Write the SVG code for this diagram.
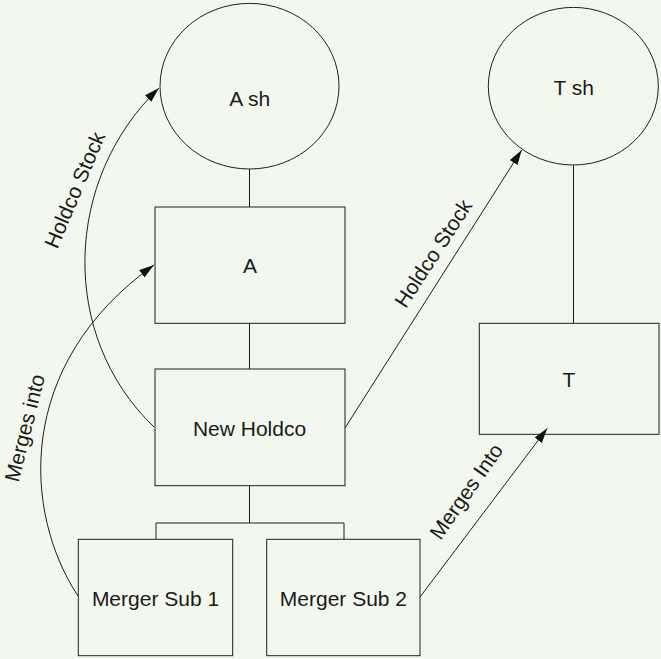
<svg xmlns="http://www.w3.org/2000/svg" width="661" height="659" viewBox="0 0 661 659">
  <style>
    .shape { fill: none; stroke: #1e1e1e; stroke-width: 1; }
    .conn { fill: none; stroke: #1e1e1e; stroke-width: 1; }
    .lbl { font-family: "Liberation Sans", Arial, sans-serif; font-size: 21px; fill: #1a1a1a; text-anchor: middle; }
  </style>
  <defs>
    <marker id="arrow" markerUnits="userSpaceOnUse" markerWidth="16" markerHeight="10" refX="15" refY="4.5" orient="auto">
      <path d="M0,0 L15,4.5 L0,9 z" fill="#111"/>
    </marker>
  </defs>
  <rect x="0" y="0" width="661" height="659" fill="#f3f8ee"/>

  <g id="connectors">
    <line class="conn" x1="249.5" y1="169" x2="249.5" y2="207"/>
    <line class="conn" x1="249.5" y1="323" x2="249.5" y2="369"/>
    <polyline class="conn" points="249.5,486 249.5,523"/>
    <polyline class="conn" points="156,539 156,523 344,523 344,539"/>
    <line class="conn" x1="573.5" y1="165" x2="573.5" y2="323"/>
    <path class="conn" d="M154,427 C58.6,335.6 63.6,179.4 159,88" marker-end="url(#arrow)"/>
    <path class="conn" d="M78,596 C23.4,513.2 13.7,365.1 154,265" marker-end="url(#arrow)"/>
    <line class="conn" x1="345" y1="428" x2="521.7" y2="150" marker-end="url(#arrow)"/>
    <line class="conn" x1="420" y1="597" x2="547.3" y2="428.3" marker-end="url(#arrow)"/>
    <text class="lbl" transform="translate(75,190) rotate(-67)" x="0" y="7">Holdco Stock</text>
    <text class="lbl" transform="translate(433.5,253.5) rotate(-57)" x="0" y="7">Holdco Stock</text>
    <text class="lbl" transform="translate(25,428) rotate(-76)" x="0" y="7">Merges into</text>
    <text class="lbl" transform="translate(466.5,491.5) rotate(-55)" x="0" y="7">Merges Into</text>
  </g>

  <g id="node-ash">
    <ellipse class="shape" cx="249.5" cy="86.2" rx="89.5" ry="82.8"/>
    <text class="lbl" x="249.8" y="106">A sh</text>
  </g>
  <g id="node-tsh">
    <ellipse class="shape" cx="573.3" cy="86.2" rx="85" ry="78.8"/>
    <text class="lbl" x="573.7" y="94.5">T sh</text>
  </g>
  <g id="node-a">
    <rect class="shape" x="155" y="207" width="190" height="116.3"/>
    <text class="lbl" x="250" y="272.5">A</text>
  </g>
  <g id="node-newholdco">
    <rect class="shape" x="155" y="369" width="190" height="116.7"/>
    <text class="lbl" x="249.5" y="436">New Holdco</text>
  </g>
  <g id="node-t">
    <rect class="shape" x="479.3" y="323.3" width="179.7" height="111"/>
    <text class="lbl" x="569" y="387">T</text>
  </g>
  <g id="node-mergersub1">
    <rect class="shape" x="78.3" y="539.3" width="154.4" height="116.4"/>
    <text class="lbl" x="155.5" y="605.5">Merger Sub 1</text>
  </g>
  <g id="node-mergersub2">
    <rect class="shape" x="266.7" y="539.3" width="153.3" height="116.4"/>
    <text class="lbl" x="343.4" y="605.5">Merger Sub 2</text>
  </g>
</svg>
